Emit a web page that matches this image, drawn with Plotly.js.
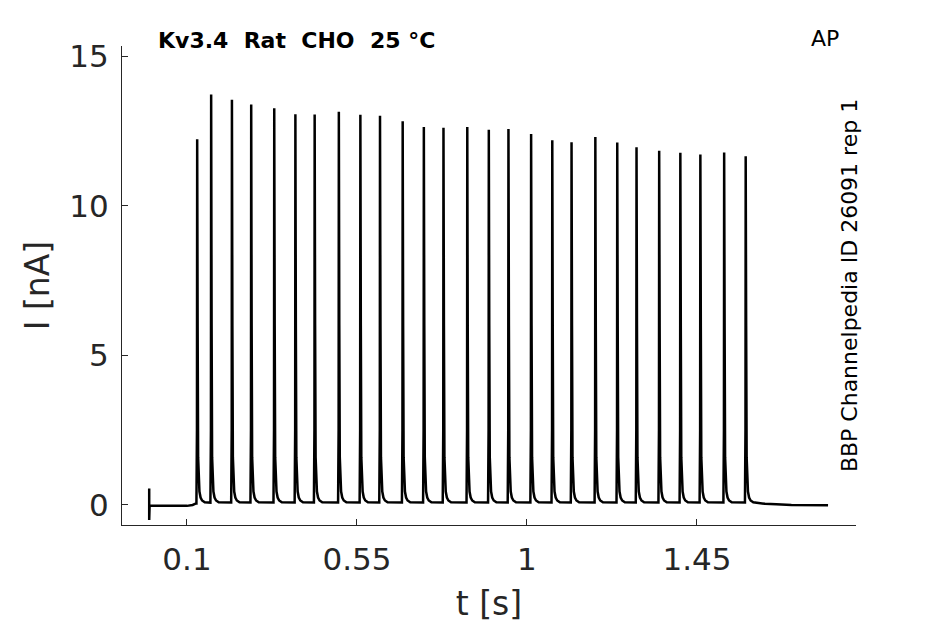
<!DOCTYPE html>
<html>
<head>
<meta charset="utf-8">
<script src="https://cdn.plot.ly/plotly-3.0.1.min.js"></script>
<style>html,body{margin:0;padding:0;background:#fff;}#chart{width:945px;height:624px;}</style>
</head>
<body>
<div id="chart"></div>
<script>
// Spike times (s) and peak currents (nA)
const spikeTimes = [0.127,0.164,0.219,0.270,0.331,0.387,0.438,0.502,0.559,0.611,0.671,0.727,0.779,0.842,0.899,0.951,1.011,1.067,1.118,1.181,1.239,1.290,1.350,1.406,1.459,1.522,1.579];
const spikePeaks = [12.23,13.73,13.55,13.39,13.27,13.07,13.06,13.15,13.05,13.02,12.83,12.64,12.62,12.64,12.55,12.57,12.41,12.20,12.13,12.31,12.12,11.96,11.85,11.78,11.72,11.79,11.66];
// Shape of one spike after its peak (offset s, current nA)
const decayDt  = [0.0012, 0.0025, 0.004, 0.006, 0.009, 0.013, 0.02];
const decayVal = [6.0,    1.6,    0.8,   0.45,  0.25,  0.15,  0.09];
// Pre-stimulus segment (t, I) and final tail (t, I)
const preT = [0, 0, 0, 0.001, 0.10, 0.115, 0.124];
const preI = [0, 0.55, -0.5, -0.03, -0.03, 0.0, 0.05];
const tailT = [1.61, 1.63, 1.66, 1.70, 1.797];
const tailI = [0.07, 0.04, 0.02, 0.0, -0.01];
const xTicks = [0.1, 0.55, 1, 1.45];
const xTickText = ['0.1', '0.55', '1', '1.45'];
const yTicks = [0, 5, 10, 15];

const t = preT.slice(), I = preI.slice();
for (let k = 0; k < spikeTimes.length; k++) {
  const t0 = spikeTimes[k];
  const next = k + 1 < spikeTimes.length ? spikeTimes[k + 1] : Infinity;
  t.push(t0 - 0.002); I.push(k === 0 ? 0.05 : 0.08);
  t.push(t0 - 0.0006); I.push(2.5);
  t.push(t0); I.push(spikePeaks[k]);
  for (let j = 0; j < decayDt.length; j++) {
    if (t0 + decayDt[j] < next - 0.003) { t.push(t0 + decayDt[j]); I.push(decayVal[j]); }
  }
}
for (let j = 0; j < tailT.length; j++) { t.push(tailT[j]); I.push(tailI[j]); }

const axisCol = '#262626';
const data = [{
  x: t, y: I, type: 'scatter', mode: 'lines',
  line: {color: '#000', width: 2.5}, hoverinfo: 'skip'
}];
const layout = {
  width: 945, height: 624,
  margin: {l: 122, r: 89, t: 46, b: 99},
  paper_bgcolor: '#fff', plot_bgcolor: '#fff',
  showlegend: false,
  font: {family: 'DejaVu Sans', color: axisCol},
  xaxis: {
    range: [-0.072, 1.871], tickvals: xTicks, ticktext: xTickText,
    ticks: 'inside', ticklen: 6, tickcolor: axisCol, tickwidth: 1, ticklabelstandoff: 7,
    showline: true, linecolor: axisCol, linewidth: 1, showgrid: false, zeroline: false,
    tickfont: {family: 'DejaVu Sans', size: 31, color: axisCol},
    title: {text: 't [s]', font: {family: 'DejaVu Sans', size: 33, color: axisCol}, standoff: 15}
  },
  yaxis: {
    range: [-0.67, 15.35], tickvals: yTicks,
    ticks: 'inside', ticklen: 6, tickcolor: axisCol, tickwidth: 1, ticklabelstandoff: 6,
    showline: true, linecolor: axisCol, linewidth: 1, showgrid: false, zeroline: false,
    tickfont: {family: 'DejaVu Sans', size: 31, color: axisCol},
    title: {text: 'I [nA]', font: {family: 'DejaVu Sans', size: 33, color: axisCol}, standoff: 9}
  },
  annotations: [
    {text: '<b>Kv3.4  Rat  CHO  25 °C</b>', xref: 'paper', yref: 'paper', x: 0.047, y: 1.0125,
     xanchor: 'left', yanchor: 'middle', showarrow: false,
     font: {family: 'DejaVu Sans', size: 22, color: '#000'}},
    {text: 'AP', xref: 'paper', yref: 'paper', x: 0.958, y: 1.0167,
     xanchor: 'center', yanchor: 'middle', showarrow: false,
     font: {family: 'DejaVu Sans', size: 22, color: '#000'}},
    {text: 'BBP Channelpedia ID 26091 rep 1', xref: 'paper', yref: 'paper', x: 0.992, y: 0.499,
     xanchor: 'center', yanchor: 'middle', textangle: -90, showarrow: false,
     font: {family: 'DejaVu Sans', size: 22, color: '#000'}}
  ]
};
Plotly.newPlot('chart', data, layout, {staticPlot: true, displayModeBar: false});
</script>
</body>
</html>
